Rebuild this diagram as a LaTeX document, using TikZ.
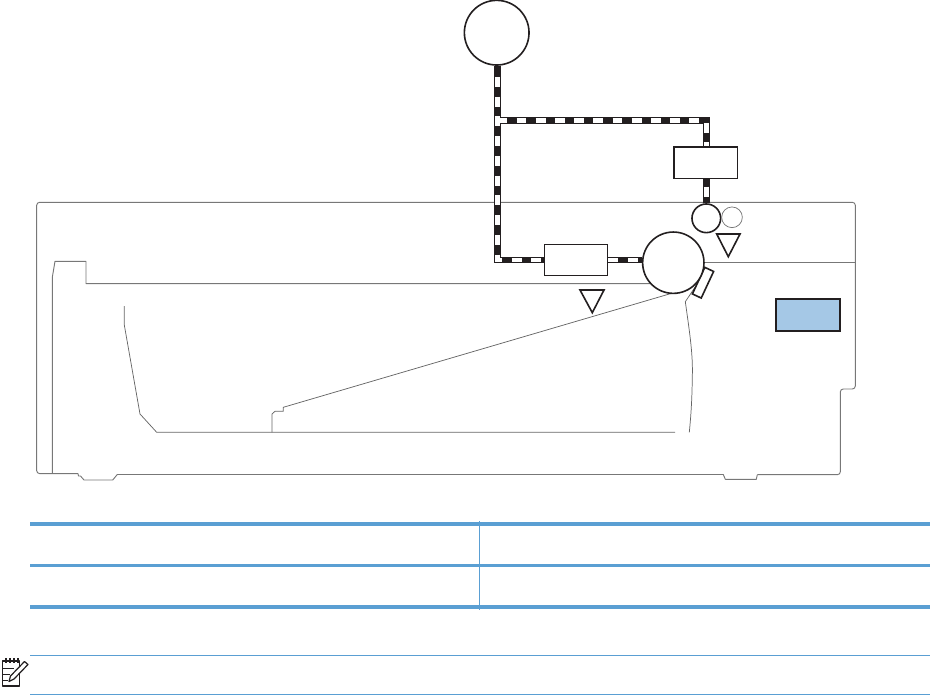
\documentclass[tikz,border=0pt]{standalone}
\definecolor{rule}{HTML}{5A9FD3}
\definecolor{ink}{HTML}{231F20}
\definecolor{edge}{HTML}{777777}
\definecolor{panel}{HTML}{A5C8E6}
\tikzset{
  wire/.style={line width=4.9pt,draw=ink},
  wirew/.style={line width=3.3pt,draw=white,dash pattern=on 7.4pt off 7.4pt},
  part/.style={draw=ink,line width=1.2pt,fill=white,inner sep=0pt},
  roller/.style={part,circle},
  boxnode/.style={part,rectangle,minimum width=47.5pt,minimum height=23.5pt},
  thin part/.style={draw=edge!85!black,line width=.55pt},
  frameline/.style={draw=edge,line width=.7pt,line join=round},
  thickrule/.style={draw=rule,line width=2.9pt},
  midrule/.style={draw=rule,line width=2.2pt},
  hair/.style={draw=rule,line width=.7pt}
}
\begin{document}
\begin{tikzpicture}[x=.75pt,y=-.75pt]
\useasboundingbox (0,0) rectangle (930,695);
% frame
\draw[frameline,rounded corners=2.2pt] (757.3,474.7) -- (840.3,474.7) -- (840.3,389) -- (855.3,389) -- (855.3,202.3) -- (36.7,202.3) -- (36.7,473.6) -- (78,473.6);
\draw[frameline] (78,473.6) -- (78.5,476) -- (80.5,476) -- (84,480) -- (112.7,480) -- (117.3,474.5) -- (723.3,474.5) -- (725.3,479.3) -- (756.3,479.3) -- (757.3,474.7);
\draw[frameline] (52.3,473.6) -- (52.3,277.3) -- (55,261.3) -- (86,261.3) -- (86,283.7) -- (650,283.7);
\coordinate (rr) at (703,262);
\coordinate (re) at (855.3,262);
\draw[frameline] (rr) -- (re);
\draw[thin part] (124.3,306) -- (124.3,325) -- (140,414) -- (156.7,432.3) -- (675,432.3);
\draw[thin part] (272,432.3) -- (272,414) -- (275,411.3) -- (283.3,411.3) -- (283.3,407.3) -- (671.7,293.3);
\draw[thin part] (701.7,277.3) -- (685.3,301.7) .. controls (690,335) and (693,355) .. (692.3,376.7) .. controls (692,400) and (691,415) .. (689.3,432.3);
% parts
\node[part,rectangle,minimum width=7.3pt,minimum height=22pt,rotate=-25] (pad) at (703,282.7) {};
\node[roller,minimum size=48.5pt] (motor) at (496.7,32.7) {};
\node[boxnode] (boxb) at (705.9,162.8) {};
\node[boxnode] (boxa) at (576,260) {};
\node[roller,minimum size=21.5pt] (pickup) at (706.3,218.3) {};
\node[circle,draw=edge,line width=.55pt,inner sep=0pt,minimum size=15.5pt] (idler) at (732,217.3) {};
\node[roller,minimum size=46pt] (drum) at (673.3,262.7) {};
\draw[part,line join=miter] (716.7,234) -- (740,234) -- (728.3,256.7) -- cycle;
\draw[part,line join=miter] (580,290) -- (604,290) -- (592.3,312.7) -- cycle;
\node[part,fill=panel,rectangle,minimum width=48.3pt,minimum height=24.3pt,line width=1.4pt] (panelbox) at (808,315) {};
% wires
\coordinate (c1) at (497.3,260);
\coordinate (c2) at (497.3,120.7);
\coordinate (c3) at (706.3,120.7);
\coordinate (ws) at (497.3,77);
\coordinate (ws2) at (706.3,186.7);
\draw[wire,line join=miter] (motor.south -| c1) -- (c1) -- (boxa.west);
\draw[wire,line join=miter] (c2) -- (c3) -- (c3 |- boxb.north);
\draw[wire] (boxa.east) -- (boxa.east -| drum.west);
\draw[wire] (c3 |- boxb.south) -- (c3 |- pickup.north);
\draw[wirew] (ws) -- (c1) -- (boxa.west);
\draw[wirew,dash pattern=on 7.4pt off 7pt] (c2) -- (c3) -- (c3 |- boxb.north);
\draw[wirew] (boxa.east) -- (boxa.east -| drum.west);
\draw[wirew] (ws2) -- (c3 |- pickup.north);
% table
\coordinate (tl1) at (30,524); \coordinate (tr1) at (930,524);
\coordinate (tl2) at (30,565.5); \coordinate (tr2) at (930,565.5);
\coordinate (tl3) at (30,606.7); \coordinate (tr3) at (930,606.7);
\coordinate (vt) at (479.3,521); \coordinate (vb) at (479.3,610);
\coordinate (nl1) at (30,655.4); \coordinate (nr1) at (930,655.4);
\coordinate (nl2) at (30,694.3); \coordinate (nr2) at (930,694.3);
\draw[thickrule] (tl1) -- (tr1);
\draw[midrule] (tl2) -- (tr2);
\draw[thickrule] (tl3) -- (tr3);
\draw[hair] (vt) -- (vb);
\draw[hair] (nl1) -- (nr1);
\draw[hair] (nl2) -- (nr2);
% note icon
\draw[ink,line width=1.1pt,fill=white,line join=round] (2.5,661) -- (19.5,661) -- (19.5,686) -- (2.5,686) -- cycle;
\draw[ink,line width=.8pt] (6,658) -- (6,663) (10,658) -- (10,663) (14,658) -- (14,663) (18,658) -- (18,663);
\draw[ink,line width=.6pt] (3,668) -- (14,668) (3,674) -- (10,674) (3,680) -- (8,680);
\draw[ink,line width=.9pt,fill=white,line join=round] (24.5,661.5) -- (28,664.5) -- (14,679) -- (9,681.5) -- (10.5,676) -- cycle;
\end{tikzpicture}
\end{document}
